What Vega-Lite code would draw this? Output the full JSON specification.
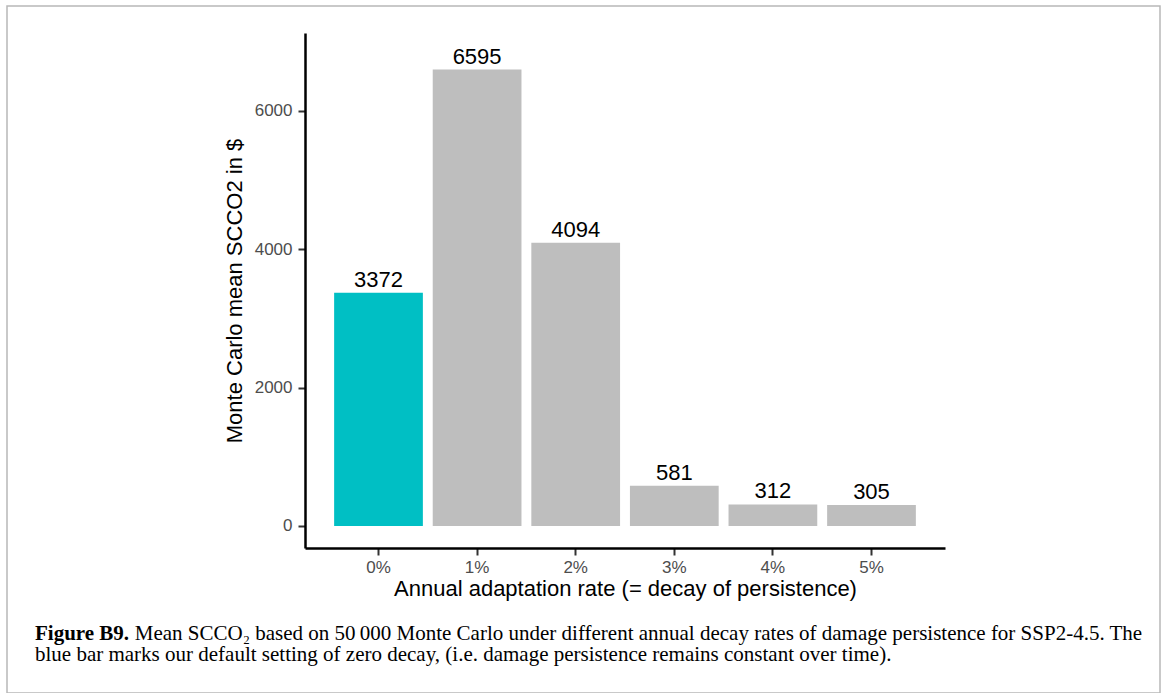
{
  "$schema": "https://vega.github.io/schema/vega-lite/v6.json",
  "autosize": {"type": "none"},
  "width": 1153,
  "height": 687,
  "padding": {"left": 7, "top": 6, "right": 7, "bottom": 0},
  "background": "white",
  "config": {
    "view": {"stroke": "#b8b8b8", "strokeWidth": 1.5},
    "font": "Liberation Sans"
  },
  "title": {
    "text": "Figure B9.",
    "subtitle": [
      "\u200b\u00a0\u00a0\u00a0\u00a0\u00a0\u00a0\u00a0\u00a0\u00a0\u00a0\u00a0\u00a0\u00a0\u00a0\u00a0\u00a0\u00a0\u00a0\u00a0Mean SCCO\u2082 based on 50\u2009000 Monte Carlo under different annual decay rates of damage persistence for SSP2-4.5. The",
      "blue bar marks our default setting of zero decay, (i.e. damage persistence remains constant over time)."
    ],
    "orient": "bottom",
    "anchor": "start",
    "frame": "group",
    "offset": -70,
    "dx": 28,
    "font": "Liberation Serif",
    "fontSize": 21,
    "fontWeight": "bold",
    "color": "black",
    "subtitleFont": "Liberation Serif",
    "subtitleFontSize": 21,
    "subtitleColor": "black",
    "subtitleLineHeight": 21,
    "subtitlePadding": -21
  },
  "data": {
    "values": [
      {"rate": "0%", "scco2": 3372, "setting": "default"},
      {"rate": "1%", "scco2": 6595, "setting": "other"},
      {"rate": "2%", "scco2": 4094, "setting": "other"},
      {"rate": "3%", "scco2": 581, "setting": "other"},
      {"rate": "4%", "scco2": 312, "setting": "other"},
      {"rate": "5%", "scco2": 305, "setting": "other"}
    ]
  },
  "encoding": {
    "x": {
      "field": "rate",
      "type": "ordinal",
      "sort": null,
      "scale": {"range": [298, 938], "paddingInner": 0.1, "paddingOuter": 0.2955},
      "axis": {
        "title": "Annual adaptation rate (= decay of persistence)",
        "offset": -145,
        "labelAngle": 0,
        "labelFontSize": 17,
        "labelColor": "#4d4d4d",
        "labelPadding": 4,
        "tickSize": 7,
        "tickWidth": 2,
        "tickColor": "#333333",
        "domainColor": "black",
        "domainWidth": 2.5,
        "titleFontSize": 22,
        "titleFontWeight": "normal",
        "titleColor": "black",
        "titlePadding": 3
      }
    },
    "y": {
      "field": "scco2",
      "type": "quantitative",
      "scale": {"domain": [-318, 7124], "range": [542, 27], "nice": false, "zero": false},
      "axis": {
        "title": "Monte Carlo mean SCCO2 in $",
        "offset": -298,
        "values": [0, 2000, 4000, 6000],
        "format": "d",
        "grid": false,
        "labelFontSize": 17,
        "labelColor": "#4d4d4d",
        "labelPadding": 6,
        "tickSize": 7,
        "tickWidth": 2,
        "tickColor": "#333333",
        "domainColor": "black",
        "domainWidth": 2.5,
        "titleFontSize": 22,
        "titleFontWeight": "normal",
        "titleColor": "black",
        "titlePadding": 8
      }
    }
  },
  "layer": [
    {
      "mark": {"type": "bar"},
      "encoding": {
        "y2": {"datum": 0},
        "color": {
          "field": "setting",
          "type": "nominal",
          "scale": {"domain": ["default", "other"], "range": ["#00BFC4", "#BEBEBE"]},
          "legend": null
        }
      }
    },
    {
      "mark": {"type": "text", "baseline": "alphabetic", "dy": -6, "fontSize": 22, "color": "black"},
      "encoding": {"text": {"field": "scco2", "type": "quantitative", "format": "d"}}
    }
  ]
}
